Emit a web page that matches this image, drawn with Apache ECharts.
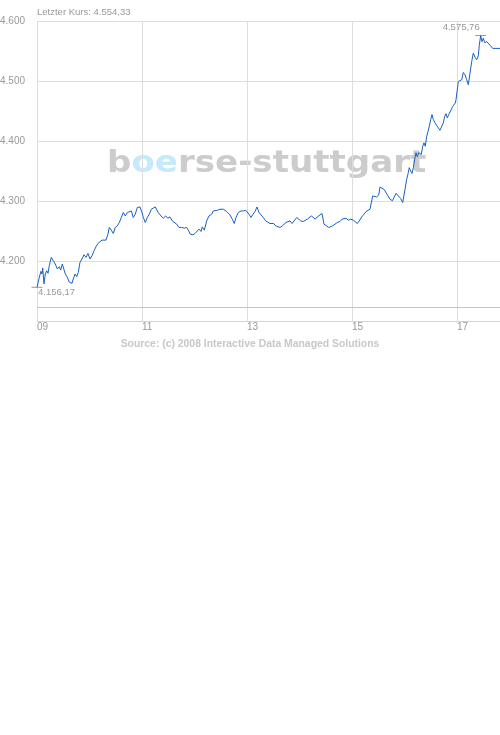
<!DOCTYPE html>
<html>
<head>
<meta charset="utf-8">
<script src="https://cdn.jsdelivr.net/npm/echarts@6/dist/echarts.min.js"></script>
<style>
  html, body { margin: 0; padding: 0; background: #fff; }
  #chart { width: 500px; height: 735px; }
</style>
</head>
<body>
<div id="chart"></div>
<script>
// Tage seit dem 09. (Handelszeit als Tagesbruchteil)
var dayOffset = [
  0, 0.044, 0.076, 0.095, 0.109, 0.133, 0.158, 0.185, 0.210, 0.234,
  0.272, 0.310, 0.349, 0.387, 0.425, 0.451, 0.482, 0.514, 0.539, 0.577,
  0.615, 0.642, 0.667, 0.691, 0.724, 0.756, 0.787, 0.819, 0.857, 0.895,
  0.933, 0.971, 1.010, 1.048, 1.086, 1.124, 1.162, 1.200, 1.238, 1.276,
  1.314, 1.352, 1.377, 1.415, 1.453, 1.491, 1.530, 1.568, 1.606, 1.644,
  1.682, 1.720, 1.758, 1.796, 1.834, 1.872, 1.910, 1.962, 2.000, 2.025,
  2.063, 2.101, 2.139, 2.177, 2.215, 2.253,
  2.280, 2.310, 2.362, 2.406, 2.451, 2.490, 2.533, 2.577, 2.615, 2.661,
  2.705, 2.756, 2.806, 2.851, 2.882, 2.920, 2.971, 3.010, 3.048, 3.086,
  3.124, 3.149, 3.187, 3.232, 3.276, 3.328, 3.358, 3.390, 3.442, 3.486,
  3.549, 3.613, 3.676, 3.720, 3.758, 3.790, 3.834, 3.886, 3.930, 3.975,
  4.013, 4.038, 4.076, 4.114, 4.152, 4.190, 4.229, 4.267, 4.310, 4.356,
  4.394, 4.438, 4.470, 4.509, 4.547, 4.585, 4.629, 4.672,
  4.705, 4.743, 4.781, 4.819, 4.857, 4.895, 4.947, 4.985, 5.023, 5.072,
  5.110, 5.149, 5.187, 5.225, 5.263, 5.301, 5.339, 5.377, 5.429, 5.467,
  5.505, 5.556, 5.594, 5.632, 5.676, 5.720, 5.771, 5.810, 5.848, 5.886,
  5.930, 5.975, 6.025, 6.063, 6.101, 6.139, 6.185, 6.229, 6.267, 6.305,
  6.343, 6.381, 6.394, 6.432, 6.470, 6.509, 6.533, 6.571, 6.610, 6.648,
  6.686, 6.724, 6.771, 6.838, 6.882, 6.928, 6.966, 7.010, 7.042, 7.072,
  7.091, 7.118, 7.143, 7.168, 7.194, 7.219, 7.244, 7.270, 7.295, 7.320,
  7.347, 7.371, 7.396, 7.423, 7.448, 7.472, 7.499, 7.524, 7.549, 7.581,
  7.613, 7.644, 7.676, 7.709, 7.739, 7.766, 7.790, 7.815, 7.842, 7.867,
  7.891, 7.918, 7.943, 7.968, 7.981, 8.006, 8.025, 8.057, 8.090, 8.120,
  8.152, 8.185, 8.215, 8.248, 8.280, 8.310, 8.343, 8.375, 8.406, 8.425,
  8.451, 8.476, 8.501, 8.527, 8.566, 8.604, 8.642, 8.680, 8.724, 8.819
];

var price = [
  4156.17, 4172.9, 4182.9, 4178.4, 4188.4, 4161.8, 4178.4, 4183.9, 4179.5, 4192.2,
  4206.1, 4200.5, 4195.0, 4186.7, 4190.5, 4185.0, 4195.0, 4195.0, 4178.4, 4172.9,
  4164.6, 4166.2, 4162.9, 4170.1, 4178.4, 4173.9, 4181.2, 4197.8, 4203.3, 4210.4,
  4206.1, 4212.7, 4203.3, 4208.7, 4217.0, 4223.7, 4229.3, 4228.2, 4234.8, 4238.1,
  4234.8, 4244.8, 4255.9, 4251.4, 4245.9, 4255.9, 4258.5, 4264.2, 4272.5, 4280.8,
  4275.1, 4280.8, 4278.0, 4283.4, 4272.5, 4278.0, 4289.1, 4290.1, 4280.8, 4272.5,
  4264.2, 4272.5, 4278.0, 4286.3, 4284.6, 4290.1,
  4289.1, 4280.8, 4275.1, 4271.3, 4275.1, 4271.3, 4273.5, 4266.8, 4268.0, 4261.4,
  4255.9, 4255.9, 4254.7, 4255.9, 4251.4, 4244.8, 4243.6, 4245.9, 4243.6, 4253.1,
  4249.2, 4256.9, 4251.4, 4266.8, 4275.1, 4278.0, 4283.4, 4280.8, 4284.6, 4286.3,
  4286.3, 4282.4, 4276.8, 4269.7, 4262.5, 4272.5, 4280.8, 4283.4, 4283.4, 4284.6,
  4282.4, 4278.0, 4272.5, 4278.0, 4282.4, 4290.1, 4280.8, 4276.8, 4272.5, 4266.8,
  4264.2, 4262.5, 4260.2, 4262.5, 4258.5, 4261.4, 4255.9, 4258.5,
  4261.0, 4264.2, 4261.4, 4266.8, 4262.5, 4265.8, 4272.5, 4269.7, 4266.8, 4265.8,
  4266.8, 4269.7, 4271.3, 4275.1, 4273.5, 4269.7, 4273.5, 4276.8, 4279.1, 4261.4,
  4258.5, 4255.9, 4258.5, 4258.5, 4261.4, 4264.2, 4265.8, 4269.7, 4268.0, 4271.3,
  4268.0, 4269.7, 4268.0, 4266.8, 4262.5, 4266.8, 4273.5, 4278.0, 4282.4, 4284.6,
  4286.3, 4289.1, 4308.4, 4310.0, 4306.7, 4310.0, 4323.3, 4325.0, 4319.5, 4317.8,
  4308.4, 4302.9, 4300.4, 4312.8, 4308.4, 4304.0, 4297.4, 4319.5, 4336.1, 4347.2,
  4355.5, 4349.8, 4346.0, 4355.5, 4369.3, 4380.4, 4373.7, 4380.4, 4383.0, 4377.6,
  4391.3, 4397.0, 4391.3, 4407.9, 4416.2, 4424.5, 4435.7, 4444.0, 4435.7, 4430.2,
  4425.7, 4421.9, 4417.9, 4416.2, 4430.2, 4441.1, 4445.6, 4438.5, 4444.0, 4441.1,
  4452.3, 4457.7, 4460.6, 4463.4, 4468.9, 4468.9, 4499.2, 4497.6, 4502.1, 4514.2,
  4510.4, 4502.1, 4493.8, 4513.2, 4532.4, 4546.4, 4539.7, 4535.3, 4541.9, 4560.2,
  4575.76, 4565.6, 4571.3, 4564.0, 4565.6, 4567.3, 4558.5, 4554.33, 4554.33, 4554.33
];

var dayLabels = ['09', '11', '13', '15', '17'];
var baseLevel = 4123;

// deutsches Zahlenformat 4.575,76
function fmtDE(v) {
    var parts = v.toFixed(2).split('.');
    var intPart = parts[0].replace(/\B(?=(\d{3})+(?!\d))/g, '.');
    return intPart + ',' + parts[1];
}

var seriesData = [];
for (var i = 0; i < dayOffset.length; i++) {
    seriesData.push([dayOffset[i], price[i]]);
}

var FONT = '"Liberation Sans", Arial, sans-serif';
var myChart = echarts.init(document.getElementById('chart'), null, { renderer: 'canvas' });

var option = {
    animation: false,
    title: {
        text: 'Letzter Kurs: ' + fmtDE(price[price.length - 1]),
        left: 37,
        top: 7,
        padding: 0,
        textStyle: { color: '#999', fontSize: 9.5, fontWeight: 'normal', fontFamily: FONT }
    },
    grid: { left: 37, right: 0, top: 21, height: 300, containLabel: false, outerBoundsMode: 'none' },
    xAxis: {
        type: 'value',
        min: 0,
        max: dayOffset[dayOffset.length - 1],
        interval: 2,
        axisLine: { show: true, lineStyle: { color: '#d4d4d4', width: 1 } },
        axisTick: { show: false },
        splitLine: { show: true, lineStyle: { color: '#dddddd', width: 1 } },
        axisLabel: {
            color: '#999',
            fontSize: 10,
            fontFamily: FONT,
            align: 'left',
            margin: 1,
            showMaxLabel: false,
            formatter: function (v) {
                if (v % 2 !== 0) return '';
                return dayLabels[v / 2] || '';
            }
        }
    },
    yAxis: {
        type: 'value',
        min: 4100,
        max: 4600,
        interval: 100,
        axisLine: { show: false },
        axisTick: { show: false },
        splitLine: { show: true, lineStyle: { color: '#dddddd', width: 1 } },
        axisLabel: {
            color: '#999',
            fontSize: 10,
            fontFamily: FONT,
            margin: 12,
            showMinLabel: false,
            formatter: function (v) {
                return (v / 1000).toFixed(3);
            }
        }
    },
    graphic: [{
        type: 'text',
        left: 107,
        top: 148,
        z: -10,
        silent: true,
        scaleX: 1.1,
        style: {
            text: '{g|b}{c|oe}{g|rse-stuttgart}',
            font: 'bold 31px "DejaVu Sans", sans-serif',
            rich: {
                g: { fill: '#cccccc', font: 'bold 31px "DejaVu Sans", sans-serif' },
                c: { fill: '#c4eafc', font: 'bold 31px "DejaVu Sans", sans-serif' }
            }
        }
    }, {
        type: 'text',
        left: 'center',
        top: 339,
        style: {
            text: 'Source: (c) 2008 Interactive Data Managed Solutions',
            fill: '#c8c8c8',
            font: 'bold 10.4px "Liberation Sans", Arial, sans-serif'
        }
    }],
    series: [{
        name: 'Kurs',
        type: 'line',
        data: seriesData,
        showSymbol: false,
        symbol: 'none',
        z: 5,
        lineStyle: { color: '#1a5fc4', width: 1 },
        markLine: {
            silent: true,
            symbol: 'none',
            label: { show: false },
            lineStyle: { color: '#a3cdf0', width: 1, type: 'solid' },
            data: [{ yAxis: baseLevel }]
        },
        markPoint: {
            symbol: 'rect',
            symbolSize: [11, 1],
            itemStyle: { color: '#999' },
            data: [{
                type: 'max',
                label: {
                    show: true, position: 'top', align: 'right', distance: 3, offset: [-1, 0],
                    color: '#999', fontSize: 9.5, fontFamily: FONT,
                    formatter: function (p) { return fmtDE(p.value); }
                }
            }, {
                type: 'min',
                label: {
                    show: true, position: 'bottom', align: 'left', distance: 0, offset: [1, 0],
                    color: '#999', fontSize: 9.5, fontFamily: FONT,
                    formatter: function (p) { return fmtDE(p.value); }
                }
            }]
        }
    }]
};

myChart.setOption(option);
</script>
</body>
</html>
